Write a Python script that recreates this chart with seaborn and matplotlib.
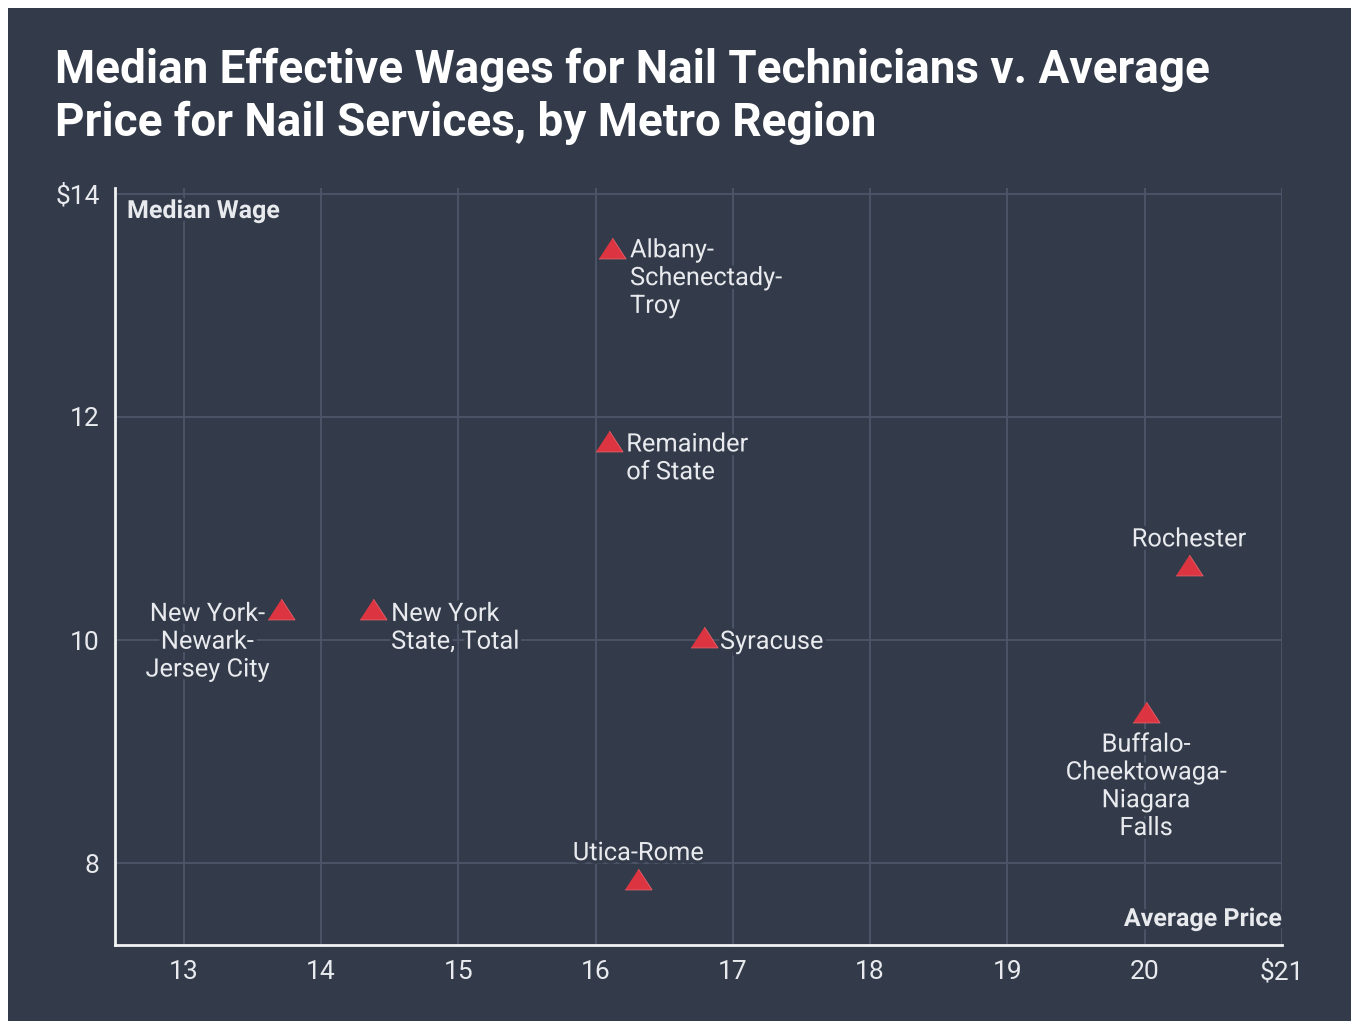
import numpy as np
import pandas as pd
import matplotlib
matplotlib.use("Agg")
import matplotlib.pyplot as plt
import matplotlib.patheffects as pe
from matplotlib.patches import Rectangle
import seaborn as sns

# ------------------ DATA ------------------
regions = [
    "Albany-\nSchenectady-\nTroy",
    "Remainder\nof State",
    "Rochester",
    "New York-\nNewark-\nJersey City",
    "New York\nState, Total",
    "Syracuse",
    "Buffalo-\nCheektowaga-\nNiagara\nFalls",
    "Utica-Rome",
]
avg_price = [16.12, 16.10, 20.32, 13.71, 14.38, 16.79, 20.01, 16.31]
median_wage = [13.51, 11.78, 10.67, 10.28, 10.28, 10.03, 9.36, 7.86]

x_ticks = [13, 14, 15, 16, 17, 18, 19, 20, 21]
x_labels = ["13", "14", "15", "16", "17", "18", "19", "20", "$21"]
y_ticks = [8, 10, 12, 14]
y_labels = ["8", "10", "12", "$14"]

df = pd.DataFrame({"region": regions, "price": avg_price, "wage": median_wage})

# label placement: (dx px, dy px, ha, va, multialignment)
label_pos = [
    (18, 10, "left", "top", "left"),
    (17, 9, "left", "top", "left"),
    (0, 14, "center", "bottom", "center"),
    (-12, 7, "right", "top", "center"),
    (18, 7, "left", "top", "left"),
    (16, -5, "left", "center", "left"),
    (0, -21, "center", "top", "center"),
    (0, 14, "center", "bottom", "center"),
]

# ------------------ STYLE ------------------
BG = "#333b4a"
GRID = "#4d5668"
RED = "#dc3440"
TXT = "#e8eaee"

sns.set_style("dark")
plt.rcParams["font.family"] = ["Roboto", "DejaVu Sans"]

fig = plt.figure(figsize=(13.53, 10.21), dpi=100)
fig.patch.set_facecolor("white")
fig.patches.append(Rectangle((8 / 1353, 0), 1343 / 1353, 1013 / 1021,
                             transform=fig.transFigure, facecolor=BG,
                             edgecolor="none", zorder=-10))

ax = fig.add_axes([115 / 1353, 1 - 945 / 1021, 1167 / 1353, 757 / 1021])
ax.set_zorder(2)
ax.set_facecolor(BG)

tri = [(-1, -0.77), (1, -0.77), (0, 0.77)]
sns.scatterplot(data=df, x="price", y="wage", ax=ax, marker=tri, s=380,
                color=RED, edgecolor="#e8606a", linewidth=0.6, zorder=5)

ax.set_xlim(12.5, 21)
ax.set_ylim(7.27, 14.05)
ax.set_xticks(x_ticks)
ax.set_xticklabels(x_labels)
ax.set_yticks(y_ticks)
ax.set_yticklabels(y_labels)
ax.tick_params(axis="both", length=0, labelsize=19, labelcolor=TXT)
ax.tick_params(axis="x", pad=11)
ax.tick_params(axis="y", pad=11)
ax.set_xlabel("")
ax.set_ylabel("")

ax.grid(True, color=GRID, linewidth=1.3)
ax.set_axisbelow(True)
for side in ["top", "right"]:
    ax.spines[side].set_visible(False)
for side in ["left", "bottom"]:
    ax.spines[side].set_visible(True)
    ax.spines[side].set_color("#f2f3f5")
    ax.spines[side].set_linewidth(2)

halo = [pe.withStroke(linewidth=5, foreground=BG)]

# point labels
for (name, px, wy), (dx, dy, ha, va, ma) in zip(zip(regions, avg_price, median_wage), label_pos):
    ax.annotate(name, (px, wy), xytext=(dx, dy), textcoords="offset pixels",
                ha=ha, va=va, multialignment=ma, fontsize=18.3, color=TXT,
                linespacing=1.2, zorder=4, path_effects=halo)

# axis titles
ax.text(12 / 1167, 1 - 11 / 757, "Median Wage", transform=ax.transAxes,
        ha="left", va="top", fontsize=18, fontweight="bold", color=TXT,
        path_effects=halo)
ax.text(1.0, 14 / 757, "Average Price", transform=ax.transAxes,
        ha="right", va="bottom", fontsize=18, fontweight="bold", color=TXT,
        path_effects=halo)

# title
fig.text(55 / 1353, 1 - 48 / 1021,
         "Median Effective Wages for Nail Technicians v. Average\nPrice for Nail Services, by Metro Region",
         ha="left", va="top", fontsize=33, fontweight="bold", color="white",
         linespacing=1.24)

fig.savefig("out.png", dpi=100, facecolor=fig.get_facecolor())
